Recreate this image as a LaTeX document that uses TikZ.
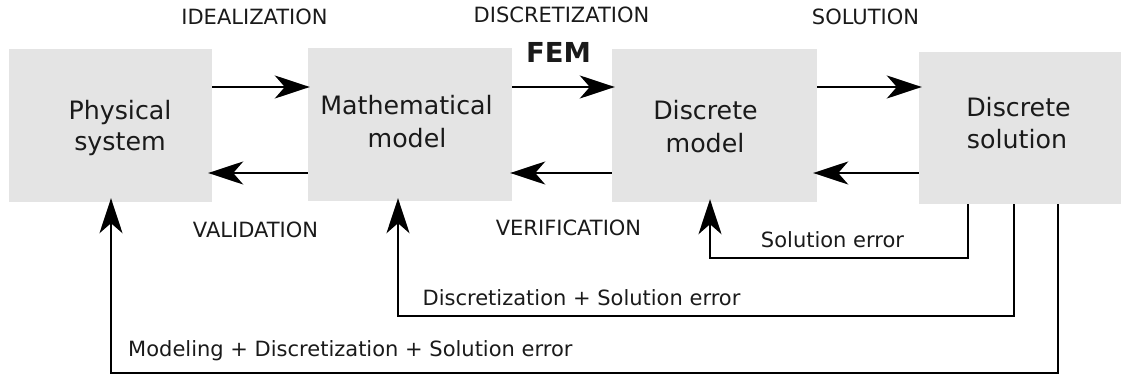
\documentclass[tikz,border=0pt]{standalone}
\usepackage{fontspec}
\setmainfont{DejaVu Sans}
\usetikzlibrary{arrows.meta}
\definecolor{boxgray}{HTML}{E4E4E4}
\definecolor{txt}{HTML}{1A1A1A}
\begin{document}
\begin{tikzpicture}[x=1pt,y=-1pt,
  blk/.style={draw=none,fill=boxgray,minimum width=#1,minimum height=153pt,inner sep=0pt},
  boxtext/.style={anchor=base,inner sep=0pt,text=txt,font=\fontsize{25.3}{30}\selectfont},
  lbl/.style={anchor=base,inner sep=0pt,text=txt,font=\fontsize{21}{25}\selectfont},
  arr/.style={line width=2.3pt,-{Stealth[length=35pt,width=23pt,inset=10pt]}},
  fb/.style={line width=2.3pt,-{Stealth[length=35pt,width=23pt,inset=10pt]}}]
\useasboundingbox (0,0) rectangle (1121,377);
% boxes
\node[blk=203pt] (p) at (110.5,125.5) {};
\node[blk=204pt] (m) at (410,124.5) {};
\node[blk=205pt] (d) at (714.5,125.5) {};
\node[blk=202pt,minimum height=152pt] (s) at (1020,128) {};
% box texts
\node[boxtext] (p1) at (120,120) {Physical};
\node[boxtext] (p2) at (120,150) {system};
\node[boxtext] (m1) at (406.5,114) {Mathematical};
\node[boxtext] (m2) at (407,147) {model};
\node[boxtext] (d1) at (705.5,120) {Discrete};
\node[boxtext] (d2) at (705,152) {model};
\node[boxtext] (s1) at (1018.5,117) {Discrete};
\node[boxtext] (s2) at (1017,149) {solution};
% labels
\node[lbl] (l1) at (254.5,25) {IDEALIZATION};
\node[lbl] (l2) at (561.5,23) {DISCRETIZATION};
\node[lbl] (l3) at (865.5,25) {SOLUTION};
\node[anchor=base,inner sep=0pt,text=txt,font=\fontsize{27.5}{30}\selectfont\bfseries] (fem) at (558.5,63) {FEM};
\node[lbl] (l4) at (255.5,237) {VALIDATION};
\node[lbl] (l5) at (568.5,235) {VERIFICATION};
\node[lbl] (l6) at (832.5,247) {Solution error};
\node[lbl] (l7) at (581.5,305) {Discretization + Solution error};
\node[lbl,anchor=base west] (l8) at (128,356) {Modeling + Discretization + Solution error};
% horizontal arrows
\coordinate (ya) at (0,87);
\coordinate (yb) at (0,173);
\draw[arr,shorten >=-2pt] (p.east |- ya) -- (m.west |- ya);
\draw[arr,shorten >=-4pt] (m.west |- yb) -- (p.east |- yb);
\draw[arr,shorten >=-3pt] (m.east |- ya) -- (d.west |- ya);
\draw[arr,shorten >=-2pt] (d.west |- yb) -- (m.east |- yb);
\draw[arr,shorten >=-3pt] (d.east |- ya) -- (s.west |- ya);
\draw[arr,shorten >=-4pt] (s.west |- yb) -- (d.east |- yb);
% feedback loops
\coordinate (a1) at (968,258);
\coordinate (b1) at (710,258);
\coordinate (a2) at (1014,316);
\coordinate (b2) at (398,316);
\coordinate (a3) at (1058,373);
\coordinate (b3) at (111,373);
\draw[fb,shorten >=-3pt] (s.south -| a1) -- (a1) -- (b1) -- (d.south -| b1);
\draw[fb,shorten >=-3pt] (s.south -| a2) -- (a2) -- (b2) -- (m.south -| b2);
\draw[fb,shorten >=-4pt] (s.south -| a3) -- (a3) -- (b3) -- (p.south -| b3);
\end{tikzpicture}
\end{document}
